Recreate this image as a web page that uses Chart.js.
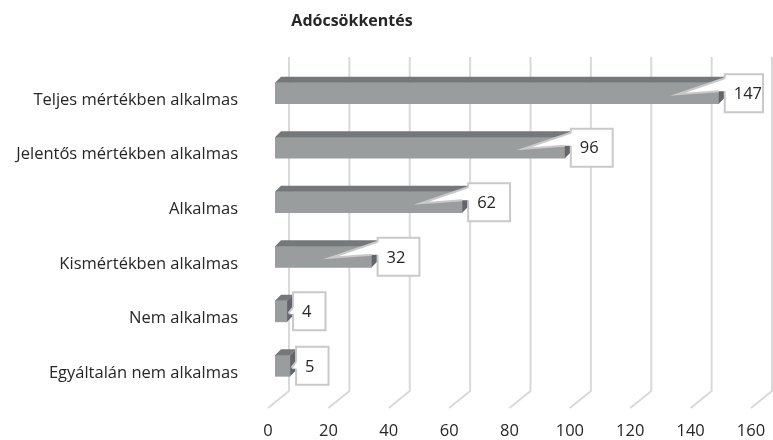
<!DOCTYPE html>
<html><head><meta charset="utf-8">
<script src="https://cdn.jsdelivr.net/npm/chart.js@4/dist/chart.umd.min.js"></script>
<style>html,body{margin:0;padding:0;background:#fff}#wrap{width:773px;height:440px;position:relative}</style>
</head><body><div id="wrap"><canvas id="c" width="773" height="440"></canvas></div>
<script>
const chartTitle = 'Adócsökkentés';
const categories = ['Teljes mértékben alkalmas','Jelentős mértékben alkalmas','Alkalmas','Kismértékben alkalmas','Nem alkalmas','Egyáltalán nem alkalmas'];
const values = [147, 96, 62, 32, 4, 5];
const xTicks = [0, 20, 40, 60, 80, 100, 120, 140, 160];

const FONT = '"Open Sans", "Noto Sans", sans-serif';
const TEXT = '#262626';
const DEPTH = 6;   // bar 3D depth
const BACK = 14;   // back wall offset
const FLOOR = 7;   // floor front offset

const plugin3d = {
  id: 'excel3d',
  beforeDatasetsDraw(chart) {
    const ctx = chart.ctx, xs = chart.scales.x;
    ctx.save();
    ctx.strokeStyle = '#d9d9d9'; ctx.lineWidth = 2;
    const top = 57, bot = 391, floorY = 408;
    xTicks.forEach(v => {
      const px = xs.getPixelForValue(v);
      ctx.beginPath();
      ctx.moveTo(px + BACK, top);
      ctx.lineTo(px + BACK, bot);
      ctx.lineTo(px - FLOOR, floorY);
      ctx.stroke();
    });
    ctx.fillStyle = TEXT; ctx.font = '16.5px ' + FONT;
    ctx.textAlign = 'center'; ctx.textBaseline = 'middle';
    xTicks.forEach(v => ctx.fillText(String(v), xs.getPixelForValue(v) - FLOOR, 431));
    ctx.font = 'bold 16px ' + FONT;
    ctx.fillText(chartTitle, 352, 21);
    ctx.restore();
  },
  afterDatasetsDraw(chart) {
    const ctx = chart.ctx;
    const meta = chart.getDatasetMeta(0);
    ctx.save();
    meta.data.forEach((el, i) => {
      const p = el.getProps(['x', 'y', 'base', 'height'], true);
      const x = p.x, b = p.base, y = p.y, h = p.height;
      const t = y - h / 2, bo = y + h / 2;
      ctx.fillStyle = '#75787a';
      ctx.beginPath();
      ctx.moveTo(b, t); ctx.lineTo(b + DEPTH, t - DEPTH); ctx.lineTo(x + DEPTH, t - DEPTH); ctx.lineTo(x, t); ctx.closePath(); ctx.fill();
      ctx.fillStyle = '#62666a';
      ctx.beginPath();
      ctx.moveTo(x, t); ctx.lineTo(x + DEPTH, t - DEPTH); ctx.lineTo(x + DEPTH, bo - DEPTH); ctx.lineTo(x, bo); ctx.closePath(); ctx.fill();
    });
    ctx.font = '16.5px ' + FONT;
    meta.data.forEach((el, i) => {
      const p = el.getProps(['x', 'y', 'base', 'height'], true);
      const x = p.x, b = p.base, y = p.y;
      const txt = String(values[i]);
      const tw = ctx.measureText(txt).width;
      const boxL = x + DEPTH;
      const boxR = Math.min(boxL + tw + 23, 763);
      const boxT = y - 19, boxB = y + 19;
      const longPtr = (x - 41) > b + 10;
      let A, T, B;
      if (longPtr) {
        A = [boxL, boxT + 4]; T = [x - 41, y + 1]; B = [x, y - 2];
      } else {
        A = [boxL, y - 4]; T = [x + 2, y + 1]; B = [x + 3, y + 3];
      }
      ctx.fillStyle = '#ffffff';
      ctx.beginPath();
      ctx.moveTo(A[0], A[1]); ctx.lineTo(T[0], T[1]); ctx.lineTo(B[0], B[1]); ctx.lineTo(boxL + 2, B[1]); ctx.lineTo(boxL + 2, A[1]);
      ctx.closePath(); ctx.fill();
      ctx.fillRect(boxL, boxT, boxR - boxL, boxB - boxT);
      ctx.strokeStyle = '#c9c9c9'; ctx.lineWidth = 2;
      ctx.beginPath();
      ctx.moveTo(A[0], A[1]); ctx.lineTo(T[0], T[1]); ctx.lineTo(B[0], B[1]);
      ctx.stroke();
      ctx.beginPath();
      ctx.moveTo(boxL, A[1]); ctx.lineTo(boxL, boxT); ctx.lineTo(boxR, boxT); ctx.lineTo(boxR, boxB); ctx.lineTo(boxL, boxB); ctx.lineTo(boxL, Math.max(B[1], y - 2));
      ctx.stroke();
      ctx.fillStyle = TEXT; ctx.textAlign = 'left'; ctx.textBaseline = 'middle';
      ctx.fillText(txt, boxL + 9, y + 1);
    });
    ctx.restore();
  }
};

new Chart(document.getElementById('c'), {
  type: 'bar',
  data: {
    labels: categories,
    datasets: [{ data: values, backgroundColor: '#9a9d9e', borderWidth: 0, barThickness: 21 }]
  },
  options: {
    indexAxis: 'y',
    responsive: false,
    animation: false,
    devicePixelRatio: 1,
    layout: { padding: { top: 66, bottom: 37, right: 15, left: 0 } },
    plugins: { legend: { display: false }, tooltip: { enabled: false }, title: { display: false } },
    scales: {
      x: { display: false, min: 0, max: 160 },
      y: {
        grid: { display: false, drawTicks: false },
        border: { display: false },
        ticks: { color: TEXT, font: { family: FONT, size: 16.5 }, padding: 37, labelOffset: 7 },
        afterFit(s) { s.width = 275; }
      }
    }
  },
  plugins: [plugin3d]
});
</script>
</body></html>
